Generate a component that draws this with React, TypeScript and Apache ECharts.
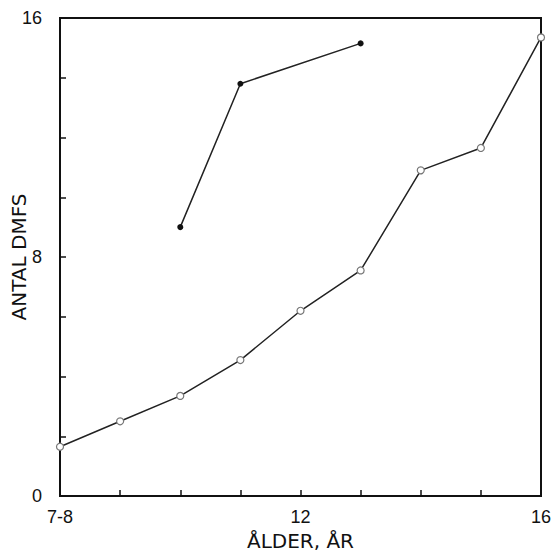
import React, { useEffect, useRef } from "react";
import * as echarts from "echarts";

const ages = [8, 9, 10, 11, 12, 13, 14, 15, 16];
const openValues = [1.65, 2.5, 3.35, 4.55, 6.2, 7.55, 10.9, 11.65, 15.35];
const filledAges = [10, 11, 13];
const filledValues = [9.0, 13.8, 15.15];
const xTickLabels: Record<number, string> = { 8: "7-8", 12: "12", 16: "16" };
const yTickLabels: Record<number, string> = { 0: "0", 8: "8", 16: "16" };

const FONT = "'Liberation Sans', Arial, sans-serif";
const NAME_FONT = "'DejaVu Sans', 'Liberation Sans', sans-serif";

export default function App() {
  const ref = useRef<HTMLDivElement>(null);
  useEffect(() => {
    if (!ref.current) return;
    const chart = echarts.init(ref.current, null, { renderer: "svg" });
    chart.setOption({
      animation: false,
      backgroundColor: "#ffffff",
      grid: {
        left: 60,
        right: 16,
        top: 18,
        bottom: 60,
        containLabel: false,
        outerBoundsMode: "none",
        show: true,
        borderColor: "#111",
        borderWidth: 2,
      },
      xAxis: {
        type: "value",
        min: 8,
        max: 16,
        interval: 1,
        name: "ÅLDER, ÅR",
        nameLocation: "middle",
        nameGap: 35,
        nameMoveOverlap: false,
        nameTextStyle: { color: "#111", fontSize: 20, fontFamily: NAME_FONT },
        axisLine: { show: true, lineStyle: { color: "#111", width: 2 } },
        axisTick: { show: true, inside: true, length: 6, lineStyle: { color: "#111", width: 1.5 } },
        splitLine: { show: false },
        axisLabel: {
          color: "#111",
          fontSize: 18,
          fontFamily: FONT,
          margin: 12,
          formatter: (v: number) => xTickLabels[v] ?? "",
        },
      },
      yAxis: {
        type: "value",
        min: 0,
        max: 16,
        interval: 2,
        name: "ANTAL DMFS",
        nameLocation: "middle",
        nameGap: 31,
        nameMoveOverlap: false,
        nameRotate: 90,
        nameTextStyle: { color: "#111", fontSize: 20, fontFamily: NAME_FONT },
        axisLine: { show: true, lineStyle: { color: "#111", width: 2 } },
        axisTick: { show: true, inside: true, length: 6, lineStyle: { color: "#111", width: 1.5 } },
        splitLine: { show: false },
        axisLabel: {
          color: "#111",
          fontSize: 18,
          fontFamily: FONT,
          margin: 18,
          formatter: (v: number) => yTickLabels[v] ?? "",
        },
      },
      series: [
        {
          type: "line",
          data: ages.map((a, i) => [a, openValues[i]]),
          symbol: "circle",
          symbolSize: 7,
          lineStyle: { color: "#222", width: 1.5 },
          itemStyle: { color: "#fff", borderColor: "#777", borderWidth: 1.2 },
          z: 3,
        },
        {
          type: "line",
          data: filledAges.map((a, i) => [a, filledValues[i]]),
          symbol: "circle",
          symbolSize: 6,
          lineStyle: { color: "#222", width: 1.5 },
          itemStyle: { color: "#111", borderColor: "#111", borderWidth: 0 },
          z: 3,
        },
      ],
    });
    return () => chart.dispose();
  }, []);
  return (
    <div
      ref={ref}
      style={{ position: "fixed", left: 0, top: 0, width: 557, height: 556, background: "#fff" }}
    />
  );
}
